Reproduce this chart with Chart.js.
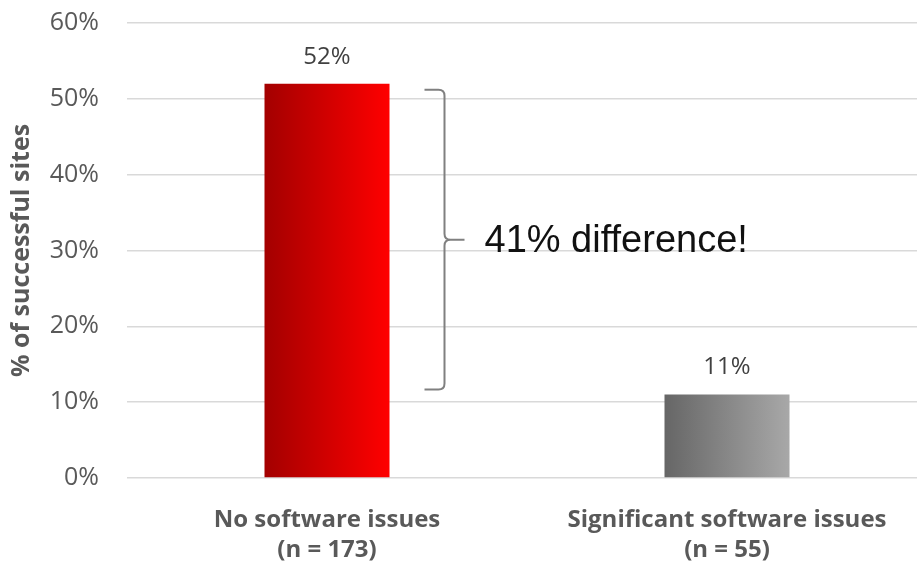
<!DOCTYPE html>
<html>
<head>
<meta charset="utf-8">
<script src="https://cdn.jsdelivr.net/npm/chart.js@4"></script>
<style>
  html, body { margin: 0; padding: 0; background: #fff; overflow: hidden; }
  #wrap { width: 927px; height: 567px; }
</style>
</head>
<body>
<div id="wrap"><canvas id="success-chart" width="927" height="567"></canvas></div>
<script>
const categories = ['No software issues', 'Significant software issues'];
const sampleSizes = ['(n = 173)', '(n = 55)'];
const successRates = [52, 11];
const yTicks = [0, 10, 20, 30, 40, 50, 60];
const calloutText = '41% difference!';

const barGradients = [
  ['#a30000', '#ff0000'],
  ['#666666', '#a8a8a8']
];

const ctx = document.querySelector('#success-chart').getContext('2d');

const barFill = (context) => {
  const chart = context.chart;
  const xScale = chart.scales.x;
  const stops = barGradients[context.dataIndex] || barGradients[0];
  if (!xScale || !chart.chartArea) return stops[1];
  const cx = xScale.getPixelForValue(context.dataIndex);
  const half = (xScale.width / categories.length) * 0.3125 / 2;
  const g = chart.ctx.createLinearGradient(cx - half, 0, cx + half, 0);
  g.addColorStop(0, stops[0]);
  g.addColorStop(1, stops[1]);
  return g;
};

const valueLabels = {
  id: 'valueLabels',
  afterDatasetsDraw(chart) {
    const c = chart.ctx;
    const meta = chart.getDatasetMeta(0);
    c.save();
    c.font = '24px "Open Sans"';
    c.fillStyle = '#404040';
    c.textAlign = 'center';
    c.textBaseline = 'middle';
    meta.data.forEach((bar, i) => {
      c.fillText(successRates[i] + '%', bar.x, bar.y - 27);
    });
    c.restore();
  }
};

const bracket = {
  id: 'bracket',
  afterDatasetsDraw(chart) {
    const c = chart.ctx;
    const y = chart.scales.y;
    const bar = chart.getDatasetMeta(0).data[0];
    const right = bar.x + bar.width / 2;
    const top = y.getPixelForValue(successRates[0]) + 6;
    const bottom = y.getPixelForValue(successRates[1]) - 5;
    const mid = (top + bottom) / 2;
    const vx = right + 55;
    const r = 6;
    c.save();
    c.strokeStyle = '#808080';
    c.lineWidth = 2;
    c.beginPath();
    c.moveTo(right + 35, top);
    c.lineTo(vx - r, top);
    c.quadraticCurveTo(vx, top, vx, top + r);
    c.lineTo(vx, mid - r);
    c.quadraticCurveTo(vx, mid, vx + r, mid);
    c.lineTo(right + 75, mid);
    c.moveTo(vx + r, mid);
    c.quadraticCurveTo(vx, mid, vx, mid + r);
    c.lineTo(vx, bottom - r);
    c.quadraticCurveTo(vx, bottom, vx - r, bottom);
    c.lineTo(right + 35, bottom);
    c.stroke();
    c.font = '38px "Liberation Sans", Arial, sans-serif';
    c.fillStyle = '#111111';
    c.textAlign = 'left';
    c.textBaseline = 'middle';
    c.fillText(calloutText, right + 95, mid + 2);
    c.restore();
  }
};

new Chart(ctx, {
  type: 'bar',
  data: {
    labels: categories.map((name, i) => [name, sampleSizes[i]]),
    datasets: [{
      data: successRates,
      backgroundColor: barFill,
      borderWidth: 0,
      barPercentage: 0.3125,
      categoryPercentage: 1
    }]
  },
  options: {
    responsive: false,
    animation: false,
    devicePixelRatio: 1,
    layout: { padding: { top: 23, right: 0, bottom: 2, left: 0 } },
    plugins: {
      legend: { display: false },
      tooltip: { enabled: false }
    },
    scales: {
      x: {
        afterFit: (scale) => { scale.height = 87; },
        grid: { display: false, drawTicks: false },
        border: { display: false },
        ticks: {
          color: '#595959',
          padding: 27,
          maxRotation: 0,
          font: { family: '"Open Sans"', size: 24, weight: 'bold', lineHeight: 1.25 }
        }
      },
      y: {
        min: 0,
        max: 60,
        afterFit: (scale) => {
          scale.width = 127;
          scale.paddingTop = 0;
          scale.paddingBottom = 0;
        },
        afterBuildTicks: (scale) => { scale.ticks = yTicks.map((v) => ({ value: v })); },
        grid: { color: '#d9d9d9', lineWidth: 1.5, drawTicks: false },
        border: { display: false },
        ticks: {
          color: '#595959',
          padding: 28,
          font: { family: '"Open Sans"', size: 25 },
          callback: (v) => v + '%'
        },
        title: {
          display: true,
          text: '% of successful sites',
          color: '#595959',
          padding: { top: 7, bottom: 0 },
          font: { family: '"Open Sans"', size: 25, weight: 'bold' }
        }
      }
    }
  },
  plugins: [valueLabels, bracket]
});
</script>
</body>
</html>
